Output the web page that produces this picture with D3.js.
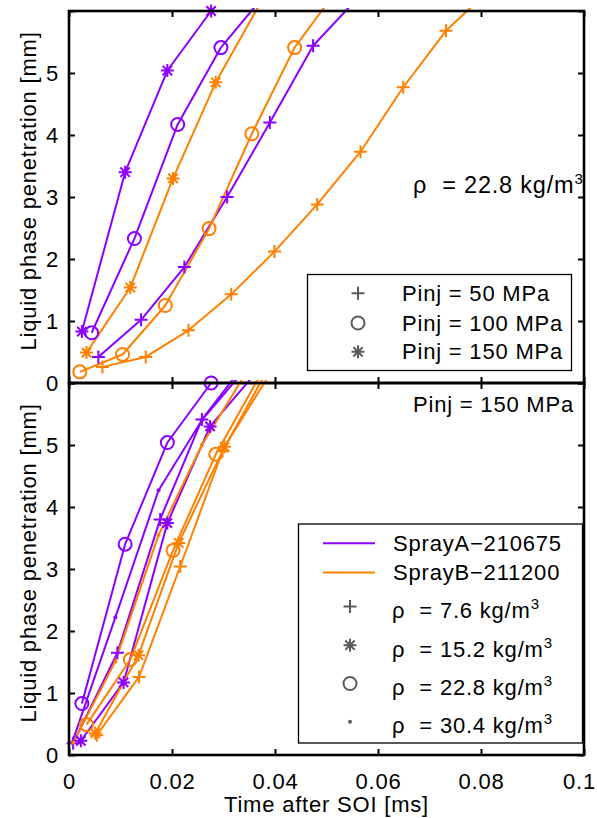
<!DOCTYPE html>
<html>
<head>
<meta charset="utf-8">
<script src="https://cdn.jsdelivr.net/npm/d3@7"></script>
<style>
  body { margin: 0; background: #fff; }
  svg { display: block; }
  text { font-family: "Liberation Sans", Arial, Helvetica, sans-serif; letter-spacing: 0.8px; }
</style>
</head>
<body>
<svg id="chart" width="597" height="818"></svg>
<script>
// ---- data: liquid phase penetration [mm] vs time after SOI [ms] ----
// Upper panel: rho = 22.8 kg/m3, three injection pressures
const upA50_t  = [0.0057, 0.0140, 0.0224, 0.0307, 0.0390, 0.0474, 0.0582];
const upA50_L  = [0.42, 1.02, 1.87, 3.00, 4.20, 5.44, 6.40];
const upA100_t = [0.0044, 0.0127, 0.0211, 0.0295, 0.0394];
const upA100_L = [0.81, 2.33, 4.17, 5.41, 6.40];
const upA150_t = [0.0025, 0.0109, 0.0191, 0.0276];
const upA150_L = [0.83, 3.40, 5.04, 6.00];
const upB50_t  = [0.0065, 0.0149, 0.0232, 0.0315, 0.0399, 0.0482, 0.0566, 0.0649, 0.0732, 0.0824];
const upB50_L  = [0.26, 0.42, 0.85, 1.43, 2.12, 2.88, 3.73, 4.77, 5.68, 6.40];
const upB100_t = [0.0021, 0.0104, 0.0187, 0.0272, 0.0355, 0.0438, 0.0526];
const upB100_L = [0.18, 0.46, 1.25, 2.49, 4.02, 5.41, 6.40];
const upB150_t = [0.0034, 0.0119, 0.0202, 0.0285, 0.0390];
const upB150_L = [0.49, 1.54, 3.30, 4.85, 6.40];

// Lower panel: Pinj = 150 MPa, four ambient densities
const loA76_t  = [0.0008, 0.0094, 0.0177, 0.0258, 0.0350];
const loA76_L  = [0.19, 1.65, 3.80, 5.41, 6.40];
const loA152_t = [0.0023, 0.0106, 0.0191, 0.0274, 0.0387];
const loA152_L = [0.23, 1.17, 3.74, 5.30, 6.40];
const loA228_t = [0.0025, 0.0109, 0.0191, 0.0276];
const loA228_L = [0.83, 3.40, 5.04, 6.00];
const loA304_t = [0.0006, 0.0090, 0.0174, 0.0258, 0.0360];
const loA304_L = [0.20, 2.22, 4.27, 5.40, 6.40];
const loB76_t  = [0.0054, 0.0136, 0.0216, 0.0298, 0.0398];
const loB76_L  = [0.32, 1.26, 3.04, 4.90, 6.40];
const loB152_t = [0.0051, 0.0135, 0.0213, 0.0302, 0.0409];
const loB152_L = [0.35, 1.61, 3.42, 4.97, 6.40];
const loB228_t = [0.0034, 0.0119, 0.0202, 0.0285, 0.0390];
const loB228_L = [0.49, 1.54, 3.30, 4.85, 6.40];
const loB304_t = [0.0008, 0.0090, 0.0174, 0.0258, 0.0361];
const loB304_L = [0.20, 1.51, 3.55, 5.00, 6.40];

const xTicks = [0, 0.02, 0.04, 0.06, 0.08, 0.1];
const xTickLabels = ["0", "0.02", "0.04", "0.06", "0.08", "0.1"];
const yTicks = [0, 1, 2, 3, 4, 5, 6];
const yTickLabels = ["0", "1", "2", "3", "4", "5", ""];

const sprayNames = ["SprayA\u2212210675", "SprayB\u2212211200"];
const pinjLabels = ["Pinj = 50 MPa", "Pinj = 100 MPa", "Pinj = 150 MPa"];
const pinjMarkers = ["plus", "circle", "star"];
const rhoValues = ["7.6", "15.2", "22.8", "30.4"];
const rhoMarkers = ["plus", "star", "circle", "dot"];

// ---- styling ----
const PURPLE = "#8c00ff", ORANGE = "#ff8000", GREY = "#5a5a5a";
const FONT = 22;

const svg = d3.select("#chart");
const left = 69, right = 584;
const x = d3.scaleLinear().domain([0, 0.1]).range([left, right]);
const panels = [
  { top: 11, bottom: 383 },
  { top: 383, bottom: 755 }
];
panels.forEach(p => { p.y = d3.scaleLinear().domain([0, 6]).range([p.bottom, p.top]); });

function zip(t, L) { return t.map((v, i) => ({ t: v, L: L[i] })); }

const upperSeries = [
  { d: zip(upA50_t, upA50_L),   c: PURPLE, m: "plus" },
  { d: zip(upA100_t, upA100_L), c: PURPLE, m: "circle" },
  { d: zip(upA150_t, upA150_L), c: PURPLE, m: "star" },
  { d: zip(upB50_t, upB50_L),   c: ORANGE, m: "plus" },
  { d: zip(upB100_t, upB100_L), c: ORANGE, m: "circle" },
  { d: zip(upB150_t, upB150_L), c: ORANGE, m: "star" }
];
const lowerSeries = [
  { d: zip(loA76_t, loA76_L),   c: PURPLE, m: "plus" },
  { d: zip(loA152_t, loA152_L), c: PURPLE, m: "star" },
  { d: zip(loA228_t, loA228_L), c: PURPLE, m: "circle" },
  { d: zip(loA304_t, loA304_L), c: PURPLE, m: "dot" },
  { d: zip(loB76_t, loB76_L),   c: ORANGE, m: "plus" },
  { d: zip(loB152_t, loB152_L), c: ORANGE, m: "star" },
  { d: zip(loB228_t, loB228_L), c: ORANGE, m: "circle" },
  { d: zip(loB304_t, loB304_L), c: ORANGE, m: "dot" }
];

// marker glyphs
function drawMarker(g, type, cx, cy, color) {
  const s = 6.5;
  if (type === "circle") {
    g.append("circle").attr("cx", cx).attr("cy", cy).attr("r", 6.5)
      .attr("fill", "none").attr("stroke", color).attr("stroke-width", 2);
  } else if (type === "dot") {
    g.append("circle").attr("cx", cx).attr("cy", cy).attr("r", 2)
      .attr("fill", color);
  } else if (type === "plus") {
    g.append("path").attr("d", `M${cx - s},${cy}H${cx + s}M${cx},${cy - s}V${cy + s}`)
      .attr("stroke", color).attr("stroke-width", 2).attr("fill", "none");
  } else if (type === "star") {
    const a = s * 0.72;
    g.append("path").attr("d",
      `M${cx - s},${cy}H${cx + s}M${cx},${cy - s}V${cy + s}` +
      `M${cx - a},${cy - a}L${cx + a},${cy + a}M${cx - a},${cy + a}L${cx + a},${cy - a}`)
      .attr("stroke", color).attr("stroke-width", 2).attr("fill", "none");
  }
}

function drawPanel(p, idx, series) {
  const y = p.y;
  const clipId = "clip" + idx;
  svg.append("clipPath").attr("id", clipId).append("rect")
    .attr("x", left).attr("y", p.top - 3).attr("width", right - left).attr("height", p.bottom - p.top + 3);

  const line = d3.line().x(d => x(d.t)).y(d => y(d.L));
  const g = svg.append("g");
  const lines = g.append("g").attr("clip-path", `url(#${clipId})`);
  series.forEach(s => {
    lines.append("path").datum(s.d).attr("d", line)
      .attr("fill", "none").attr("stroke", s.c).attr("stroke-width", 2)
      .attr("stroke-linejoin", "round");
  });
  const marks = g.append("g");
  series.forEach(s => {
    s.d.filter(d => d.L <= 6).forEach(d => drawMarker(marks, s.m, x(d.t), y(d.L), s.c));
  });

  // axes with inward ticks on all four sides
  const axL = d3.axisLeft(y).tickValues(yTicks).tickSize(-6).tickPadding(10)
    .tickFormat((d, i) => yTickLabels[i]);
  const axR = d3.axisRight(y).tickValues(yTicks).tickSize(-6).tickFormat("");
  const axT = d3.axisTop(x).tickValues(xTicks).tickSize(-6).tickFormat("");
  const axB = d3.axisBottom(x).tickValues(xTicks).tickSize(-6).tickFormat("");
  [[axL, `translate(${left},0)`], [axR, `translate(${right},0)`],
   [axT, `translate(0,${p.top})`], [axB, `translate(0,${p.bottom})`]].forEach(([ax, tr]) => {
    const ag = svg.append("g").attr("transform", tr).call(ax);
    ag.select(".domain").remove();
    ag.selectAll(".tick line").attr("stroke", "#000").attr("stroke-width", 2);
    ag.selectAll(".tick text").attr("font-size", FONT).attr("fill", "#000")
      .attr("font-family", null);
  });

  // frame
  svg.append("rect").attr("x", left).attr("y", p.top)
    .attr("width", right - left).attr("height", p.bottom - p.top)
    .attr("fill", "none").attr("stroke", "#000").attr("stroke-width", 2.6);

  // y label
  const cy = (p.top + p.bottom) / 2 - 6;
  svg.append("text").attr("transform", `translate(28,${cy}) rotate(-90)`)
    .attr("text-anchor", "middle").attr("dy", "0.35em").attr("font-size", FONT)
    .text("Liquid phase penetration [mm]");
}

drawPanel(panels[0], 0, upperSeries);
drawPanel(panels[1], 1, lowerSeries);

// bottom x tick labels and axis title
const xLab = d3.axisBottom(x).tickValues(xTicks).tickSize(0).tickPadding(18)
  .tickFormat((d, i) => xTickLabels[i]);
const xg = svg.append("g").attr("transform", `translate(0,${panels[1].bottom})`).call(xLab);
xg.select(".domain").remove();
xg.selectAll(".tick text").attr("font-size", FONT).attr("fill", "#000").attr("font-family", null)
  .attr("letter-spacing", "0.3px")
  .filter((d, i) => i === xTicks.length - 1).attr("dx", -5);
svg.append("text").attr("x", (left + right) / 2).attr("y", 812).attr("text-anchor", "middle")
  .attr("font-size", FONT).text("Time after SOI [ms]");

// density label with superscript
function rhoText(sel, value, gap) {
  sel.append("tspan").text("\u03c1");
  sel.append("tspan").attr("dx", gap).text(`= ${value} kg/m`);
  sel.append("tspan").attr("dy", -9).attr("font-size", 15).text("3");
}

// upper annotation
rhoText(svg.append("text").attr("x", 413).attr("y", 193).attr("font-size", 23.5), "22.8", 15);

// upper legend
const lg1 = svg.append("g");
lg1.append("rect").attr("x", 307.5).attr("y", 274.5).attr("width", 264).attr("height", 96)
  .attr("fill", "#fff").attr("stroke", "#000").attr("stroke-width", 1.3);
const lg1Base = [300.7, 330.5, 359.3];
pinjLabels.forEach((lab, i) => {
  drawMarker(lg1, pinjMarkers[i], 358, lg1Base[i] - 7.5, GREY);
  lg1.append("text").attr("x", 402).attr("y", lg1Base[i]).attr("font-size", FONT).text(lab);
});

// lower annotation
svg.append("text").attr("x", 574).attr("y", 412).attr("text-anchor", "end")
  .attr("font-size", FONT).text("Pinj = 150 MPa");

// lower legend
const lg2 = svg.append("g");
lg2.append("rect").attr("x", 298.5).attr("y", 524).attr("width", 284).attr("height", 219)
  .attr("fill", "#fff").attr("stroke", "#000").attr("stroke-width", 1.3);
const lg2Base = [550.7, 580, 618, 656.7, 695, 733.3];
[PURPLE, ORANGE].forEach((c, i) => {
  lg2.append("line").attr("x1", 323).attr("x2", 375)
    .attr("y1", lg2Base[i] - 7.5).attr("y2", lg2Base[i] - 7.5)
    .attr("stroke", c).attr("stroke-width", 2);
  lg2.append("text").attr("x", 393).attr("y", lg2Base[i]).attr("font-size", FONT).text(sprayNames[i]);
});
rhoValues.forEach((v, i) => {
  const b = lg2Base[i + 2];
  drawMarker(lg2, rhoMarkers[i], 350, b - 11.5, GREY);
  rhoText(lg2.append("text").attr("x", 392).attr("y", b).attr("font-size", FONT), v, 14);
});
</script>
</body>
</html>
